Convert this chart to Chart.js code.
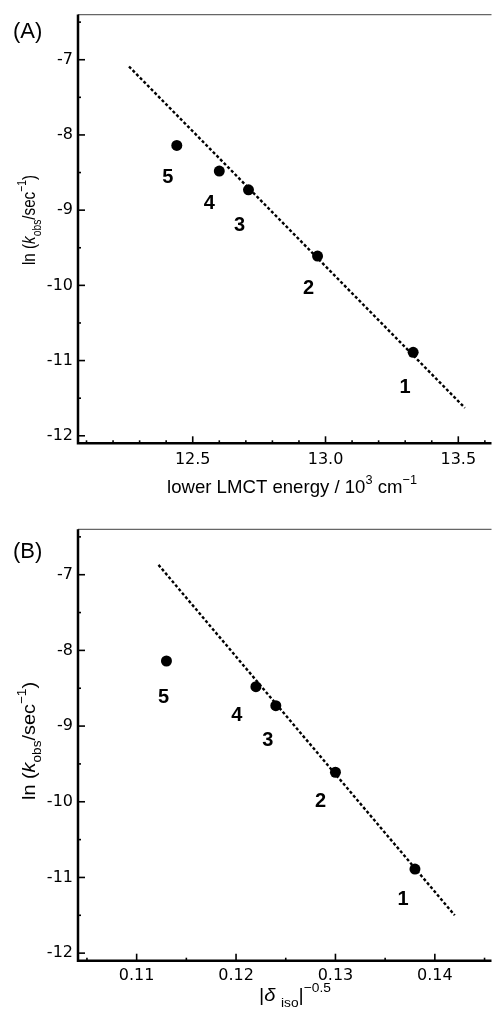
<!DOCTYPE html>
<html>
<head>
<meta charset="utf-8">
<script src="https://cdn.jsdelivr.net/npm/chart.js@4.4.0/dist/chart.umd.min.js"></script>
<style>
  html, body { margin: 0; padding: 0; background: #fff; overflow: hidden; }
  #wrap { position: relative; width: 497px; height: 1009px; }
  canvas { position: absolute; left: 0; }
  #chartA { top: 0; }
  #chartB { top: 505px; }
</style>
</head>
<body>
<div id="wrap">
  <canvas id="chartA" width="497" height="505"></canvas>
  <canvas id="chartB" width="497" height="504"></canvas>
</div>
<script>
// compounds 1..5, same order in every array
const compounds = ['1', '2', '3', '4', '5'];
const lnKobs = [-10.89, -9.61, -8.73, -8.48, -8.14];
const lmctEnergy = [13.33, 12.97, 12.71, 12.60, 12.44];
const deltaIso = [0.138, 0.130, 0.124, 0.122, 0.113];

// dotted fit lines, end points
const fitLmctX = [12.26, 13.525];
const fitLmctY = [-7.09, -11.63];
const fitDeltaX = [0.1122, 0.1420];
const fitDeltaY = [-6.87, -11.50];

// axis ranges
const yRange = [-12.1, -6.4];
const lmctRange = [12.068, 13.625];
const deltaRange = [0.1041, 0.1457];

// where the bold numbers sit relative to their point (px)
const labelOffsetA = [[-8, 34], [-9, 31], [-9, 34], [-10, 31], [-9, 30]];
const labelOffsetB = [[-12, 29], [-15, 28], [-8, 33], [-19, 27], [-3, 35]];

// draw text with italic / sub / superscript pieces
function drawRich(ctx, parts, size, o) {
  const fontFor = k => (k === 'i' ? 'italic ' : '') +
    Math.round(k === 'sub' || k === 'sup' ? size * 0.68 : size) + 'px "Liberation Sans"';
  let total = 0;
  const widths = parts.map(([t, k]) => {
    ctx.font = fontFor(k);
    const w = ctx.measureText(t).width;
    total += w;
    return w;
  });
  ctx.save();
  ctx.translate(o.x, o.y);
  if (o.angle) ctx.rotate(o.angle);
  ctx.scale(o.length ? o.length / total : 1, 1);
  ctx.fillStyle = '#000';
  ctx.textAlign = 'left';
  ctx.textBaseline = 'alphabetic';
  let x = 0;
  parts.forEach(([t, k], i) => {
    ctx.font = fontFor(k);
    const dy = k === 'sub' ? size * 0.3 : k === 'sup' ? -size * 0.45 : 0;
    ctx.fillText(t, x, dy);
    x += widths[i];
  });
  ctx.restore();
}

const yTitle = [['ln (', ''], ['k', 'i'], ['obs', 'sub'], ['/sec', ''], ['\u22121', 'sup'], [')', '']];

// axes frame, inward ticks, point numbers and titles
function framePlugin(o) {
  return {
    id: 'frame',
    afterDraw(chart) {
      const { ctx, chartArea: a, scales: { x, y } } = chart;
      ctx.save();
      ctx.strokeStyle = '#666';
      ctx.lineWidth = 1.2;
      ctx.beginPath();
      ctx.moveTo(a.left, a.top);
      ctx.lineTo(a.right, a.top);
      ctx.stroke();

      ctx.strokeStyle = '#000';
      ctx.lineWidth = 2.5;
      ctx.beginPath();
      ctx.moveTo(a.left, a.top);
      ctx.lineTo(a.left, a.bottom);
      ctx.lineTo(a.right, a.bottom);
      ctx.stroke();

      ctx.lineWidth = 1.6;
      const isMajor = (v, step) => Math.abs(v / step - Math.round(v / step)) < 1e-6;
      for (let k = Math.ceil(x.min / o.xMinor); k * o.xMinor <= x.max; k++) {
        const v = k * o.xMinor;
        const px = x.getPixelForValue(v);
        const len = isMajor(v, o.xStep) ? 7 : 3;
        ctx.beginPath();
        ctx.moveTo(px, a.bottom);
        ctx.lineTo(px, a.bottom - len);
        ctx.stroke();
      }
      for (let k = Math.ceil(y.min / 0.5); k * 0.5 <= y.max; k++) {
        const v = k * 0.5;
        const py = y.getPixelForValue(v);
        const len = isMajor(v, 1) ? 7 : 3;
        ctx.beginPath();
        ctx.moveTo(a.left, py);
        ctx.lineTo(a.left + len, py);
        ctx.stroke();
      }

      ctx.fillStyle = '#000';
      ctx.font = 'bold 20px "Liberation Sans"';
      ctx.textAlign = 'center';
      ctx.textBaseline = 'alphabetic';
      chart.getDatasetMeta(0).data.forEach((pt, i) => {
        const [dx, dy] = o.labelOffset[i];
        ctx.fillText(compounds[i], pt.x + dx, pt.y + dy + 0.358 * 20);
      });

      ctx.font = '22px "Liberation Sans"';
      ctx.textAlign = 'left';
      ctx.fillText(o.letter, 13, o.letterY);
      ctx.restore();

      drawRich(ctx, o.xTitle, 19, o.xTitlePos);
      drawRich(ctx, yTitle, 19, { x: 35, y: o.yTitleY, angle: -Math.PI / 2, length: o.yTitleLen });
    }
  };
}

function makePanel(id, o) {
  return new Chart(document.getElementById(id), {
    type: 'scatter',
    data: {
      datasets: [
        {
          data: o.xs.map((v, i) => ({ x: v, y: lnKobs[i] })),
          pointRadius: 5.5,
          pointHoverRadius: 5.5,
          backgroundColor: '#000',
          borderWidth: 0
        },
        {
          data: o.fitX.map((v, i) => ({ x: v, y: o.fitY[i] })),
          showLine: true,
          pointRadius: 0,
          borderColor: '#000',
          borderWidth: 2.4,
          borderDash: [3, 2.2],
          fill: false
        }
      ]
    },
    options: {
      responsive: false,
      animation: false,
      devicePixelRatio: 1,
      layout: { padding: { top: o.top, left: 0, right: 0, bottom: 0 } },
      plugins: { legend: { display: false }, tooltip: { enabled: false } },
      scales: {
        x: {
          type: 'linear',
          min: o.xRange[0],
          max: o.xRange[1],
          grid: { display: false, drawTicks: false },
          border: { display: false },
          ticks: {
            stepSize: o.xStep,
            includeBounds: false,
            autoSkip: false,
            maxRotation: 0,
            padding: o.xPad,
            color: '#000',
            font: { family: 'DejaVu Sans', size: 16 },
            callback: v => v.toFixed(o.xDigits)
          },
          afterFit: s => { s.height = o.xHeight; }
        },
        y: {
          type: 'linear',
          min: yRange[0],
          max: yRange[1],
          grid: { display: false, drawTicks: false },
          border: { display: false },
          ticks: {
            stepSize: 1,
            includeBounds: false,
            padding: 5,
            color: '#000',
            font: { family: 'DejaVu Sans', size: 16 },
            callback: v => String(Math.round(v))
          },
          afterFit: s => { s.width = 78; }
        }
      }
    },
    plugins: [framePlugin(o)]
  });
}

makePanel('chartA', {
  xs: lmctEnergy, fitX: fitLmctX, fitY: fitLmctY,
  xRange: lmctRange, xStep: 0.5, xMinor: 0.1, xDigits: 1, xPad: 7,
  top: 13.5, xHeight: 61.7,
  labelOffset: labelOffsetA,
  letter: '(A)', letterY: 38,
  xTitle: [['lower LMCT energy / 10', ''], ['3', 'sup'], [' cm', ''], ['\u22121', 'sup']],
  xTitlePos: { x: 167, y: 493, length: 250 },
  yTitleY: 265, yTitleLen: 90
});

makePanel('chartB', {
  xs: deltaIso, fitX: fitDeltaX, fitY: fitDeltaY,
  xRange: deltaRange, xStep: 0.01, xMinor: 0.005, xDigits: 2, xPad: 6,
  top: 24.3, xHeight: 48.3,
  labelOffset: labelOffsetB,
  letter: '(B)', letterY: 53,
  xTitle: [['|', ''], ['\u03b4', 'i'], [' ', ''], ['iso', 'sub'], ['|', ''], ['\u22120.5', 'sup']],
  xTitlePos: { x: 259, y: 496, length: 72 },
  yTitleY: 295, yTitleLen: 118
});
</script>
</body>
</html>
